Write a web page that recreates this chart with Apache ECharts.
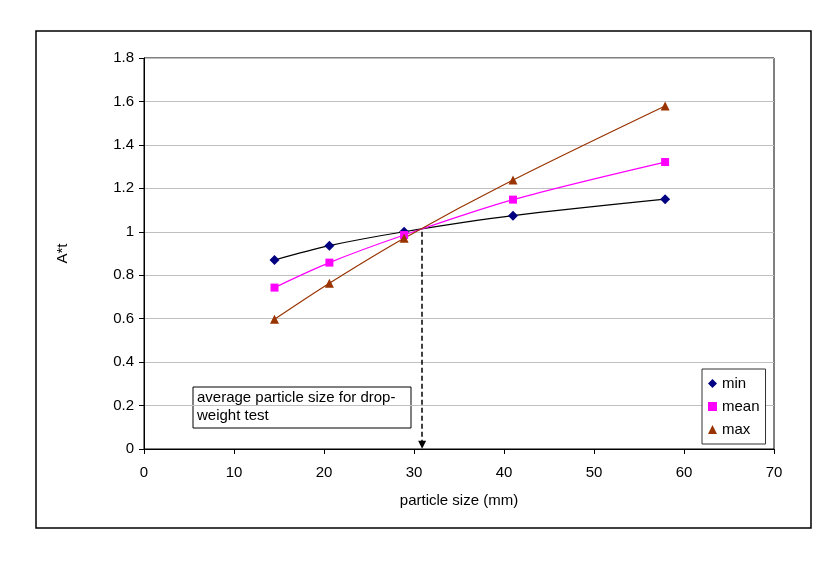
<!DOCTYPE html>
<html>
<head>
<meta charset="utf-8">
<script src="https://cdn.jsdelivr.net/npm/echarts@6/dist/echarts.min.js"></script>
<style>
  html, body { margin: 0; padding: 0; background: #fff; }
  #chart { width: 840px; height: 561px; }
</style>
</head>
<body>
<div id="chart"></div>
<script>
// particle sizes (mm)
const particleSize = [14.5, 20.6, 28.9, 41.0, 57.9];
// A*t values per series
const minValues = [0.87, 0.936, 1.0, 1.074, 1.15];
const meanValues = [0.743, 0.858, 0.985, 1.148, 1.321];
const maxValues = [0.597, 0.763, 0.97, 1.238, 1.579];
// average particle size for drop-weight test, arrow from the crossing down to the axis
const arrowX = 30.9;
const arrowTop = 1.0;

const FONT = '"Liberation Sans", Arial, sans-serif';

function pairs(ys) {
  return particleSize.map((x, i) => [x, ys[i]]);
}

const chartDom = document.getElementById('chart');
const myChart = echarts.init(chartDom);

const option = {
  backgroundColor: '#fff',
  animation: false,
  textStyle: {
    fontFamily: FONT,
    color: '#000'
  },
  grid: {
    left: 144,
    top: 58,
    right: 66,
    bottom: 112,
    show: true,
    borderColor: '#000',
    borderWidth: 1
  },
  legend: {
    orient: 'vertical',
    left: 702,
    top: 369,
    padding: [7, 6, 7, 6],
    itemGap: 8,
    itemWidth: 9,
    itemHeight: 9,
    borderColor: '#333',
    borderWidth: 1,
    backgroundColor: '#fff',
    textStyle: {
      fontFamily: FONT,
      fontSize: 15,
      color: '#000'
    },
    data: [
      { name: 'min', icon: 'diamond' },
      { name: 'mean', icon: 'rect' },
      { name: 'max', icon: 'triangle' }
    ]
  },
  xAxis: {
    type: 'value',
    min: 0,
    max: 70,
    interval: 10,
    name: 'particle size (mm)',
    nameLocation: 'middle',
    nameGap: 44,
    nameTextStyle: {
      fontFamily: FONT,
      fontSize: 15,
      color: '#000'
    },
    axisLine: {
      onZero: false,
      lineStyle: { color: '#000', width: 1 }
    },
    axisTick: {
      inside: false,
      length: 5,
      lineStyle: { color: '#000' }
    },
    axisLabel: {
      margin: 16,
      fontSize: 15,
      color: '#000'
    },
    splitLine: { show: false }
  },
  yAxis: {
    type: 'value',
    min: 0,
    max: 1.8,
    interval: 0.2,
    name: 'A*t',
    nameLocation: 'middle',
    nameGap: 74,
    nameRotate: 90,
    nameTextStyle: {
      fontFamily: FONT,
      fontSize: 15,
      color: '#000'
    },
    axisLine: {
      show: true,
      lineStyle: { color: '#000', width: 1 }
    },
    axisTick: {
      show: true,
      length: 5,
      lineStyle: { color: '#000' }
    },
    axisLabel: {
      margin: 10,
      fontSize: 15,
      color: '#000'
    },
    splitLine: {
      lineStyle: { color: '#c0c0c0', width: 1 }
    }
  },
  series: [
    {
      name: 'min',
      type: 'line',
      smooth: 0.3,
      data: pairs(minValues),
      symbol: 'diamond',
      symbolSize: 10,
      lineStyle: { color: '#000', width: 1.2 },
      itemStyle: { color: '#000080' },
      markLine: {
        silent: true,
        symbol: ['none', 'triangle'],
        symbolSize: 8,
        symbolRotate: 180,
        label: { show: false },
        itemStyle: { color: '#000' },
        lineStyle: { color: '#000', type: [5, 3], width: 1.5 },
        data: [[{ coord: [arrowX, arrowTop] }, { coord: [arrowX, 0.02] }]]
      }
    },
    {
      name: 'mean',
      type: 'line',
      smooth: 0.3,
      data: pairs(meanValues),
      symbol: 'rect',
      symbolSize: 8,
      lineStyle: { color: '#ff00ff', width: 1.2 },
      itemStyle: { color: '#ff00ff' }
    },
    {
      name: 'max',
      type: 'line',
      smooth: 0.3,
      data: pairs(maxValues),
      symbol: 'triangle',
      symbolSize: 9,
      lineStyle: { color: '#993300', width: 1.2 },
      itemStyle: { color: '#993300' }
    }
  ],
  graphic: [
    {
      type: 'rect',
      z: -10,
      shape: { x: 36, y: 31, width: 775, height: 497 },
      style: { fill: 'none', stroke: '#000', lineWidth: 1.5 }
    },
    {
      type: 'group',
      x: 193,
      y: 387,
      z: 100,
      children: [
        {
          type: 'rect',
          shape: { x: 0, y: 0, width: 218, height: 41 },
          style: { fill: '#fff', stroke: '#000', lineWidth: 1 }
        },
        {
          type: 'text',
          x: 4,
          y: 2,
          style: {
            text: 'average particle size for drop-\nweight test',
            fontFamily: FONT,
            fontSize: 15,
            lineHeight: 18,
            fill: '#000'
          }
        }
      ]
    }
  ]
};

myChart.setOption(option);
</script>
</body>
</html>
